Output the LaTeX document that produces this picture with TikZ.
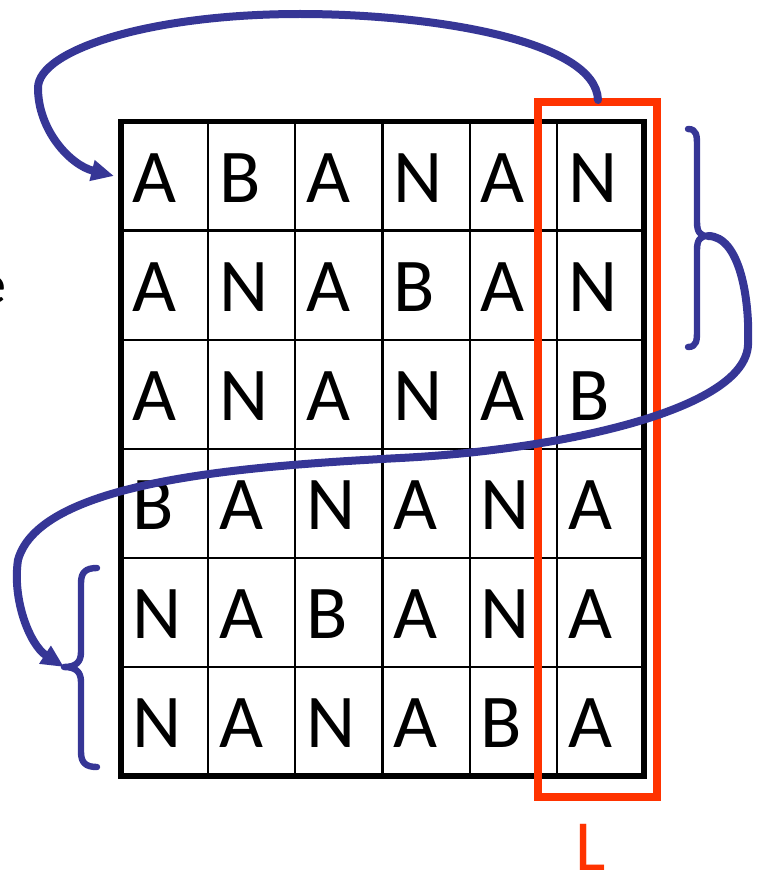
\documentclass[tikz,border=0pt]{standalone}
\usepackage{fontspec}
\setmainfont{Carlito}
\usetikzlibrary{arrows.meta}
\definecolor{bandblue}{RGB}{54,54,150}
\definecolor{lred}{RGB}{255,51,0}
\begin{document}
\begin{tikzpicture}[x=0.75pt,y=-0.75pt,
  letter/.style={anchor=base west,inner sep=0pt,font=\fontsize{57}{64}\selectfont},
  thinline/.style={line width=1.7pt},
  outerline/.style={line width=3.8pt},
  redbox/.style={draw=lred,line width=5.6pt},
  bluearc/.style={draw=bandblue,line width=6pt,line cap=round},
  bluebrace/.style={draw=bandblue,line width=4.8pt,line cap=round,line join=round},
  tip/.style={-{Triangle[length=17pt,width=15pt]}}]
\useasboundingbox (0,0) rectangle (759,874);
% cut-off text at left edge
\node[anchor=base east,inner sep=0pt,font=\fontsize{42}{48}\selectfont] (cut) at (7,303) {e};
% grid
\foreach \i in {1,...,5} {
  \draw[thinline] ({121+87.17*\i},121.5) -- ({121+87.17*\i},776);
  \draw[thinline] (121,{121.5+109.08*\i}) -- (644,{121.5+109.08*\i});
}
\draw[outerline] (121,121.5) rectangle (644,776);
% letters
\foreach \row [count=\r] in {{A,B,A,N,A,N},{A,N,A,B,A,N},{A,N,A,N,A,B},{B,A,N,A,N,A},{N,A,B,A,N,A},{N,A,N,A,B,A}} {
  \foreach \ch [count=\c] in \row {
    \node[letter] (c\r\c) at ({121+87.17*(\c-1)+11},{121.5+109.08*(\r-1)+54.5+26}) {\ch};
  }
}
% red column box and label
\draw[redbox] (538,102) rectangle (657,797);
\node[letter,text=lred,text depth=0pt,font=\fontsize{54}{60}\selectfont] (L) at (575,870) {L};
% coordinates
\coordinate (topstart) at (598,100);
\coordinate (atip) at (114,176);
\coordinate (rtip) at (708,236);
\coordinate (ltip) at (64,667);
% right brace
\draw[bluebrace] (688,129) .. controls (697,129) and (697,136) .. (697,146) -- (697,222)
  .. controls (697,232) and (700,236) .. (rtip)
  .. controls (700,236) and (697,240) .. (697,250) -- (697,330)
  .. controls (697,340) and (697,347) .. (688,347);
% left brace
\draw[bluebrace] (97,568) .. controls (86,568) and (81,572) .. (81,583) -- (81,652)
  .. controls (81,662) and (76,667) .. (ltip)
  .. controls (76,667) and (81,672) .. (81,682) -- (81,752)
  .. controls (81,763) and (86,767) .. (97,767);
% top arc
\draw[bluearc,tip] (topstart) .. controls (596,40) and (430,14) .. (300,14)
  .. controls (150,14) and (38,50) .. (38,88)
  .. controls (38,130) and (70,165) .. (atip);
% long wave
\draw[bluearc,tip] (rtip) .. controls (740,236) and (750,300) .. (748,345)
  .. controls (745,410) and (560,450) .. (400,458)
  .. controls (250,466) and (40,480) .. (18,560)
  .. controls (12,600) and (30,645) .. (ltip);
\end{tikzpicture}
\end{document}
